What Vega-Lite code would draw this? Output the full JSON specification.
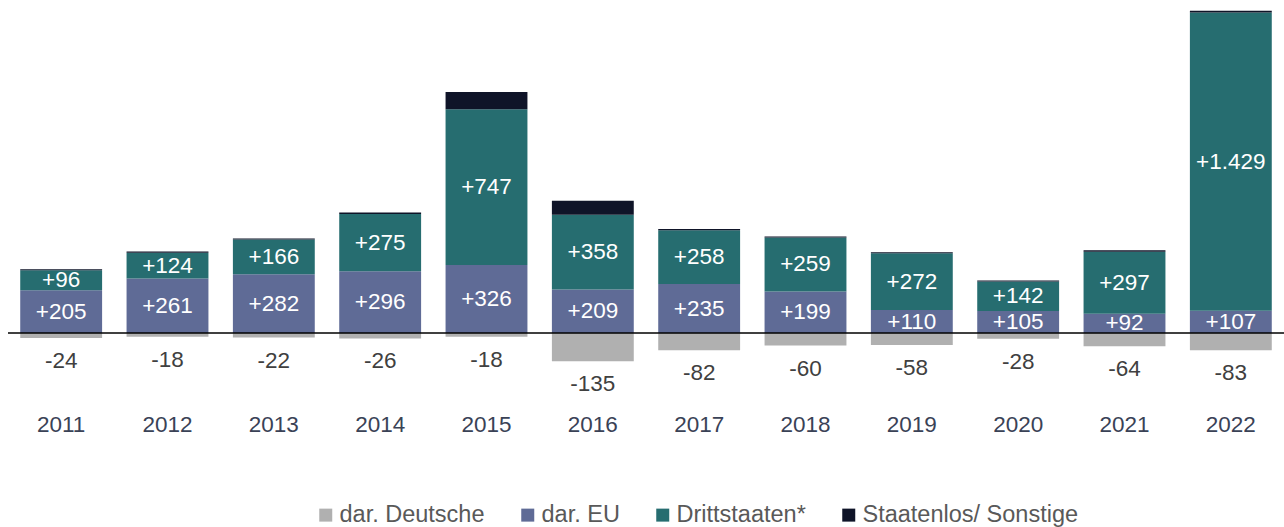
{
  "$schema": "https://vega.github.io/schema/vega-lite/v6.json",
  "width": 1276,
  "height": 400,
  "autosize": "none",
  "padding": {"left": 8, "top": 0, "right": 0, "bottom": 127},
  "config": {
    "view": {"stroke": null},
    "font": "Liberation Sans",
    "locale": {"number": {"decimal": ",", "thousands": ".", "grouping": [3], "currency": ["", " €"], "minus": "-"}}
  },
  "data": {"values": [
    {"year": "2011", "cat": "dar. Deutsche", "ord": 0, "value": -24},
    {"year": "2011", "cat": "dar. EU", "ord": 1, "value": 205},
    {"year": "2011", "cat": "Drittstaaten*", "ord": 2, "value": 96},
    {"year": "2011", "cat": "Staatenlos/ Sonstige", "ord": 3, "value": 5},
    {"year": "2012", "cat": "dar. Deutsche", "ord": 0, "value": -18},
    {"year": "2012", "cat": "dar. EU", "ord": 1, "value": 261},
    {"year": "2012", "cat": "Drittstaaten*", "ord": 2, "value": 124},
    {"year": "2012", "cat": "Staatenlos/ Sonstige", "ord": 3, "value": 6},
    {"year": "2013", "cat": "dar. Deutsche", "ord": 0, "value": -22},
    {"year": "2013", "cat": "dar. EU", "ord": 1, "value": 282},
    {"year": "2013", "cat": "Drittstaaten*", "ord": 2, "value": 166},
    {"year": "2013", "cat": "Staatenlos/ Sonstige", "ord": 3, "value": 5},
    {"year": "2014", "cat": "dar. Deutsche", "ord": 0, "value": -26},
    {"year": "2014", "cat": "dar. EU", "ord": 1, "value": 296},
    {"year": "2014", "cat": "Drittstaaten*", "ord": 2, "value": 275},
    {"year": "2014", "cat": "Staatenlos/ Sonstige", "ord": 3, "value": 6},
    {"year": "2015", "cat": "dar. Deutsche", "ord": 0, "value": -18},
    {"year": "2015", "cat": "dar. EU", "ord": 1, "value": 326},
    {"year": "2015", "cat": "Drittstaaten*", "ord": 2, "value": 747},
    {"year": "2015", "cat": "Staatenlos/ Sonstige", "ord": 3, "value": 82},
    {"year": "2016", "cat": "dar. Deutsche", "ord": 0, "value": -135},
    {"year": "2016", "cat": "dar. EU", "ord": 1, "value": 209},
    {"year": "2016", "cat": "Drittstaaten*", "ord": 2, "value": 358},
    {"year": "2016", "cat": "Staatenlos/ Sonstige", "ord": 3, "value": 67},
    {"year": "2017", "cat": "dar. Deutsche", "ord": 0, "value": -82},
    {"year": "2017", "cat": "dar. EU", "ord": 1, "value": 235},
    {"year": "2017", "cat": "Drittstaaten*", "ord": 2, "value": 258},
    {"year": "2017", "cat": "Staatenlos/ Sonstige", "ord": 3, "value": 6},
    {"year": "2018", "cat": "dar. Deutsche", "ord": 0, "value": -60},
    {"year": "2018", "cat": "dar. EU", "ord": 1, "value": 199},
    {"year": "2018", "cat": "Drittstaaten*", "ord": 2, "value": 259},
    {"year": "2018", "cat": "Staatenlos/ Sonstige", "ord": 3, "value": 5},
    {"year": "2019", "cat": "dar. Deutsche", "ord": 0, "value": -58},
    {"year": "2019", "cat": "dar. EU", "ord": 1, "value": 110},
    {"year": "2019", "cat": "Drittstaaten*", "ord": 2, "value": 272},
    {"year": "2019", "cat": "Staatenlos/ Sonstige", "ord": 3, "value": 5},
    {"year": "2020", "cat": "dar. Deutsche", "ord": 0, "value": -28},
    {"year": "2020", "cat": "dar. EU", "ord": 1, "value": 105},
    {"year": "2020", "cat": "Drittstaaten*", "ord": 2, "value": 142},
    {"year": "2020", "cat": "Staatenlos/ Sonstige", "ord": 3, "value": 5},
    {"year": "2021", "cat": "dar. Deutsche", "ord": 0, "value": -64},
    {"year": "2021", "cat": "dar. EU", "ord": 1, "value": 92},
    {"year": "2021", "cat": "Drittstaaten*", "ord": 2, "value": 297},
    {"year": "2021", "cat": "Staatenlos/ Sonstige", "ord": 3, "value": 8},
    {"year": "2022", "cat": "dar. Deutsche", "ord": 0, "value": -83},
    {"year": "2022", "cat": "dar. EU", "ord": 1, "value": 107},
    {"year": "2022", "cat": "Drittstaaten*", "ord": 2, "value": 1429},
    {"year": "2022", "cat": "Staatenlos/ Sonstige", "ord": 3, "value": 8}
  ]},
  "transform": [
    {"stack": "value", "groupby": ["year"], "sort": [{"field": "ord", "order": "ascending"}], "as": ["y0", "y1"]},
    {"calculate": "(datum.y0 + datum.y1) / 2", "as": "ymid"}
  ],
  "encoding": {
    "x": {"field": "year", "type": "nominal", "sort": null,
      "scale": {"paddingInner": 0.23, "paddingOuter": 0.115},
      "axis": {"title": null, "domain": false, "ticks": false, "labelAngle": 0, "labelFontSize": 22.5, "labelColor": "#3A4256", "labelPadding": 13, "labelFont": "Liberation Sans"}}
  },
  "layer": [
    {
      "mark": {"type": "bar"},
      "encoding": {
        "y": {"field": "y0", "type": "quantitative", "scale": {"domain": [-321, 1596], "nice": false}, "axis": null},
        "y2": {"field": "y1"},
        "color": {"field": "cat", "type": "nominal",
          "scale": {"domain": ["dar. Deutsche", "dar. EU", "Drittstaaten*", "Staatenlos/ Sonstige"], "range": ["#B0B0B0", "#5F6B96", "#266D70", "#0F1428"]},
          "legend": {"title": null, "orient": "none", "legendX": 306, "legendY": 503, "direction": "horizontal", "columns": 4,
            "symbolType": "square", "symbolSize": 169, "symbolStrokeWidth": 0, "labelFontSize": 23.5, "labelColor": "#595959",
            "labelFont": "Liberation Sans", "labelOffset": 2, "columnPadding": 31, "labelLimit": 400}},
        "order": {"field": "ord"}
      }
    },
    {
      "transform": [{"filter": "datum.ord == 1 || datum.ord == 2"}],
      "mark": {"type": "text", "color": "white", "fontSize": 22.5, "baseline": "middle", "font": "Liberation Sans"},
      "encoding": {
        "y": {"field": "ymid", "type": "quantitative"},
        "text": {"field": "value", "type": "quantitative", "format": "+,d"}
      }
    },
    {
      "transform": [{"filter": "datum.ord == 0"}],
      "mark": {"type": "text", "color": "#404040", "fontSize": 22.5, "baseline": "top", "dy": 12, "font": "Liberation Sans"},
      "encoding": {
        "y": {"field": "y1", "type": "quantitative"},
        "text": {"field": "value", "type": "quantitative", "format": "+,d"}
      }
    },
    {
      "data": {"values": [{"z": 0}]},
      "mark": {"type": "rule", "color": "#000000", "strokeWidth": 1.5},
      "encoding": {"y": {"field": "z", "type": "quantitative"}, "x": null}
    }
  ]
}
